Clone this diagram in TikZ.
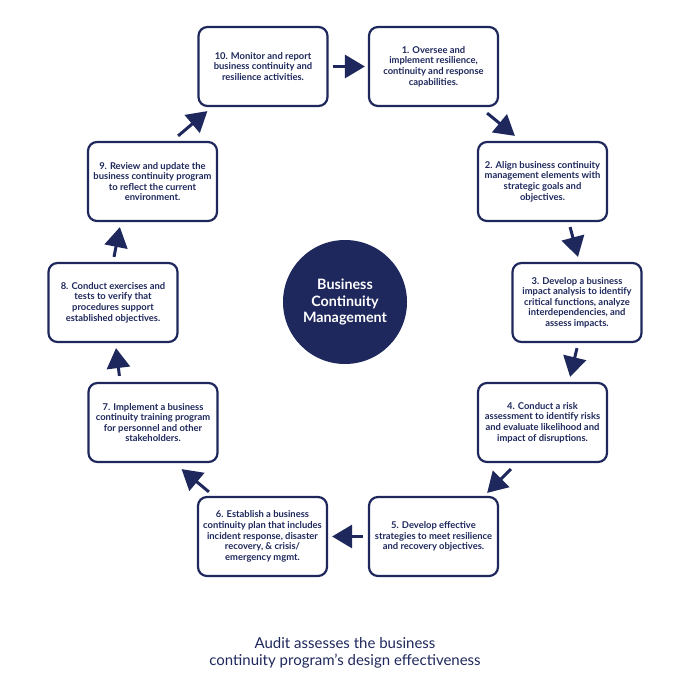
\documentclass[tikz,border=0pt]{standalone}
\usepackage{fontspec}
\setmainfont{Lato}
\usetikzlibrary{arrows.meta}
\definecolor{navy}{RGB}{31,40,92}
\tikzset{
  stepbox/.style={draw=navy, line width=2.2bp, rounded corners=9bp, fill=white,
    minimum width=129bp, minimum height=79bp, align=center, text=navy,
    font=\fontsize{9.4bp}{10.6bp}\selectfont\bfseries, inner sep=1bp},
  arr/.style={draw=navy, line width=3bp, -{Triangle[length=20bp,width=23bp]}},
}
\begin{document}
\begin{tikzpicture}[x=1bp,y=-1bp]
\useasboundingbox (0,0) rectangle (690,690);
\node[stepbox] (b10) at (263,66.5) {10. Monitor and report\\business continuity and\\resilience activities.};
\node[stepbox] (b1) at (433.5,66.5) {1. Oversee and\\implement resilience,\\continuity and response\\capabilities.};
\node[stepbox] (b2) at (542.5,181.5) {2. Align business continuity\\management elements with\\strategic goals and\\objectives.};
\node[stepbox] (b3) at (577,302.5) {3. Develop a business\\impact analysis to identify\\critical functions, analyze\\interdependencies, and\\assess impacts.};
\node[stepbox] (b4) at (542.5,422.5) {4. Conduct a risk\\assessment to identify risks\\and evaluate likelihood and\\impact of disruptions.};
\node[stepbox] (b5) at (433.5,536.5) {5. Develop effective\\strategies to meet resilience\\and recovery objectives.};
\node[stepbox] (b6) at (262.5,536.5) {6. Establish a business\\continuity plan that includes\\incident response, disaster\\recovery, \& crisis/\\emergency mgmt.};
\node[stepbox] (b7) at (153,422.5) {7. Implement a business\\continuity training program\\for personnel and other\\stakeholders.};
\node[stepbox] (b8) at (113,302.5) {8. Conduct exercises and\\tests to verify that\\procedures support\\established objectives.};
\node[stepbox] (b9) at (152.5,181.5) {9. Review and update the\\business continuity program\\to reflect the current\\environment.};
\node[circle, fill=navy, minimum size=124bp, text=white, align=center,
  font=\fontsize{14.3bp}{16.8bp}\selectfont\bfseries] (c) at (345,302) {Business\\Continuity\\Management};
\draw[arr] ([xshift=4bp]b10.east) -- ([xshift=-3bp]b1.west);
\draw[arr] ([xshift=-12bp,yshift=-6bp]b1.south east) -- ([xshift=38bp,yshift=5bp]b2.north west);
\draw[arr] ([xshift=-38bp,yshift=-5bp]b2.south east) -- ([xshift=1bp,yshift=5bp]b3.north);
\draw[arr] ([yshift=-5bp]b3.south) -- ([xshift=-38bp,yshift=5bp]b4.north east);
\draw[arr] ([xshift=34bp,yshift=-6bp]b4.south west) -- ([xshift=-12bp,yshift=3bp]b5.north east);
\draw[arr] ([xshift=-5bp]b5.west) -- ([xshift=4bp]b6.east);
\draw[arr] ([xshift=12bp,yshift=4bp]b6.north west) -- ([xshift=-37bp,yshift=-6bp]b7.south east);
\draw[arr] ([xshift=32bp,yshift=6bp]b7.north west) -- ([xshift=3bp,yshift=-5bp]b8.south);
\draw[arr] ([xshift=1bp,yshift=5bp]b8.north) -- ([xshift=33bp,yshift=-5bp]b9.south west);
\draw[arr] ([xshift=-40bp,yshift=5bp]b9.north east) -- ([xshift=10bp,yshift=-4bp]b10.south west);
\node[align=center, text=navy, font=\fontsize{15bp}{17bp}\selectfont] (t) at (345,653) {Audit assesses the business\\continuity program’s design effectiveness};
\end{tikzpicture}
\end{document}
